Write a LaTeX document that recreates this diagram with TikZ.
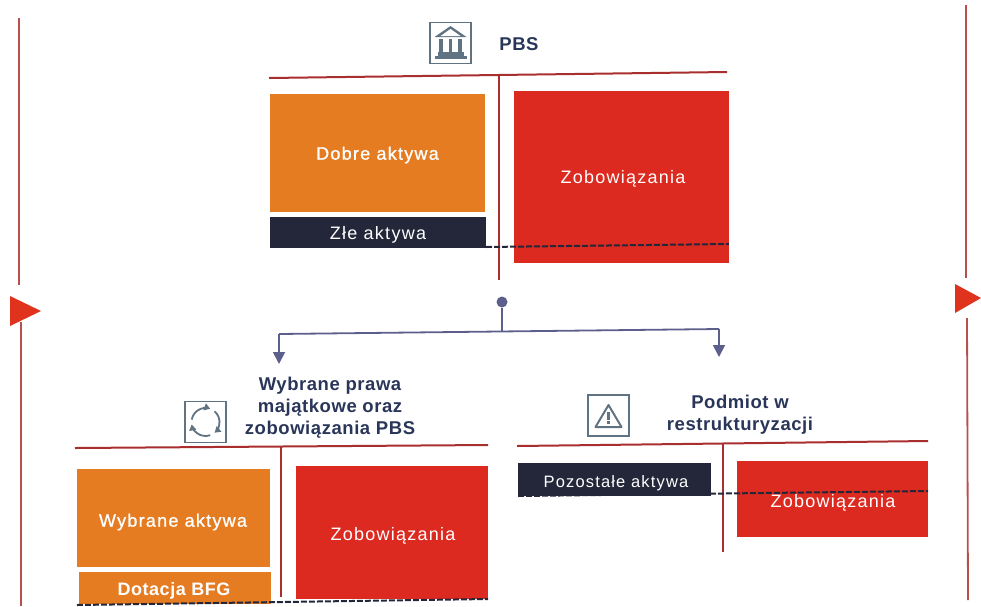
\documentclass[tikz,border=0pt]{standalone}
\usepackage{fontspec}
\setmainfont{Liberation Sans}
\newfontfamily\widef[LetterSpace=7]{Liberation Sans}
\newfontfamily\widem[LetterSpace=7,FakeBold=1]{Liberation Sans}
\newfontfamily\wideb[LetterSpace=3]{Liberation Sans}
\usetikzlibrary{arrows.meta}
\definecolor{orangeb}{HTML}{E57C22}
\definecolor{redb}{HTML}{DD2A20}
\definecolor{darkb}{HTML}{24263A}
\definecolor{ruleb}{HTML}{A92E2E}
\definecolor{navyt}{HTML}{2A3659}
\definecolor{iconc}{HTML}{5F7383}
\definecolor{arrowc}{HTML}{5C5F8C}
\definecolor{sidec}{HTML}{B5504F}
\tikzset{
  blockbox/.style={draw=none,minimum width=#1,inner sep=0pt,outer sep=0pt},
  lbl/.style={text=white,inner sep=0pt,font=\widef\fontsize{18}{20}\selectfont},
  lblm/.style={text=white,inner sep=0pt,font=\widem\fontsize{18}{20}\selectfont},
  title/.style={text=navyt,font=\wideb\bfseries\fontsize{18.5}{22}\selectfont,align=center,inner sep=0pt},
  rulel/.style={draw=ruleb,line width=2pt},
  dashl/.style={draw=darkb,line width=2pt,dash pattern=on 6pt off 2pt},
  flowl/.style={draw=arrowc,line width=1.8pt},
  flowa/.style={flowl,-{Triangle[length=12pt,width=12pt]}},
  iconbox/.style={draw=iconc,line width=1.8pt,minimum size=41pt,inner sep=0pt},
  sidel/.style={draw=sidec,line width=1.8pt},
  sidet/.style={fill=redb!90!orange,draw=none},
  cyca/.style={iconc,line width=1.8pt,-{Triangle[length=6pt,width=7pt]}}
}
\begin{document}
\begin{tikzpicture}[x=1pt,y=-1pt]
\useasboundingbox (0,0) rectangle (981,606);
% side lines
\coordinate (la) at (19,18); \coordinate (lb) at (19,285); \coordinate (lc) at (21,322); \coordinate (ld) at (21,606);
\coordinate (ra) at (966,5); \coordinate (rb) at (966,278); \coordinate (rc) at (967,318); \coordinate (rd) at (968,600);
\draw[sidel] (la)--(lb); \draw[sidel] (lc)--(ld);
\draw[sidel] (ra)--(rb); \draw[sidel] (rc)--(rd);
\fill[sidet] (10,296)--(41,311)--(10,326)--cycle;
\fill[sidet] (955,284)--(981,298)--(955,313)--cycle;
% top group
\node[blockbox=215pt,minimum height=118pt,fill=orangeb] (dobre) at (377.5,153) {};
\node[lblm] (dobret) at (377.5,155) {Dobre aktywa};
\node[blockbox=216pt,minimum height=31pt,fill=darkb] (zle) at (378,232.5) {};
\node[lbl] (zlet) at (378,235) {Złe aktywa};
\node[blockbox=215pt,minimum height=172pt,fill=redb] (zob1) at (621.5,177) {};
\node[lbl] (zob1t) at (623,179) {Zobowiązania};
\coordinate (t1) at (269,78); \coordinate (t2) at (727,72);
\coordinate (v1) at (499,75); \coordinate (v2) at (499,280);
\draw[rulel] (t1)--(t2); \draw[rulel] (v1)--(v2);
\coordinate (d1) at (486,247); \coordinate (d2) at (729,244);
\draw[dashl] (d1)--(d2);
\node[title] (pbs) at (519,44) {PBS};
\node[iconbox] (bank) at (450.5,43) {};
% bank icon
\fill[iconc] (bank.center)++(0,-17)--++(16,11)--++(-32,0)--cycle;
\fill[white] (bank.center)++(0,-14)--++(10,7)--++(-20,0)--cycle;
\foreach \dx in {-9.5,0,9.5}{\fill[iconc] (bank.center)++(\dx-1.8,-4) rectangle ++(3.6,13);}
\fill[iconc] (bank.center)++(-13,9) rectangle ++(26,3.5);
\fill[iconc] (bank.center)++(-16,12.5) rectangle ++(32,3.5);
% flow
\node[circle,fill=arrowc,minimum size=11pt,inner sep=0pt] (dot) at (502,302) {};
\coordinate (jn) at (502,331); \coordinate (hl) at (279,334); \coordinate (hr) at (719,329);
\coordinate (al) at (279,364); \coordinate (ar) at (719,357);
\draw[flowl] (dot)--(jn);
\draw[flowa] (hl)--(al);
\draw[flowa] (hr)--(ar);
\draw[flowl] (hl)--(hr);
% left group
\node[title] (wyb) at (330,408) {Wybrane prawa\\majątkowe oraz\\zobowiązania PBS};
\node[iconbox] (cyc) at (205.5,422) {};
\draw[cyca] (cyc.center)++(190:14) arc (190:290:14);
\draw[cyca] (cyc.center)++(310:14) arc (310:410:14);
\draw[cyca] (cyc.center)++(70:14) arc (70:170:14);
\node[blockbox=193pt,minimum height=98pt,fill=orangeb] (wa) at (173.5,518) {};
\node[lblm] (wat) at (173,522) {Wybrane aktywa};
\node[blockbox=192pt,minimum height=32pt,fill=orangeb] (dot2) at (175,588) {};
\node[text=white,inner sep=0pt,font=\wideb\bfseries\fontsize{18}{20}\selectfont] (dot2t) at (174,591) {Dotacja BFG};
\node[blockbox=192pt,minimum height=133pt,fill=redb] (zob2) at (392,532.5) {};
\node[lbl] (zob2t) at (393,536) {Zobowiązania};
\coordinate (l1) at (75,448); \coordinate (l2) at (488,445);
\coordinate (lv1) at (281,447); \coordinate (lv2) at (281,597);
\draw[rulel] (l1)--(l2); \draw[rulel] (lv1)--(lv2);
\coordinate (ld1) at (77,605); \coordinate (ld2) at (488,599);
\draw[dashl] (ld1)--(ld2);
% right group
\node[title] (pod) at (740,415) {Podmiot w\\restrukturyzacji};
\node[iconbox] (warn) at (608.5,415.5) {};
\draw[iconc,line width=2pt,line join=round] (warn.center)++(0,-10.5)--++(13,22)--++(-26,0)--cycle;
\fill[iconc] (warn.center)++(-1.2,-4) rectangle ++(2.4,8);
\fill[iconc] (warn.center)++(-1.2,5.5) rectangle ++(2.4,2.6);
\node[blockbox=193pt,minimum height=33pt,fill=darkb] (poz) at (614.5,479.5) {};
\node[lbl,font=\widef\fontsize{16.5}{18}\selectfont] (pozt) at (616,483) {Pozostałe aktywa};
\node[blockbox=191pt,minimum height=76pt,fill=redb] (zob3) at (832.5,499) {};
\node[lbl] (zob3t) at (833,503) {Zobowiązania};
\coordinate (r1) at (517,446); \coordinate (r2) at (928,441);
\coordinate (rv1) at (723,444); \coordinate (rv2) at (723,552);
\draw[rulel] (r1)--(r2); \draw[rulel] (rv1)--(rv2);
\coordinate (rd1) at (518,496); \coordinate (rd2) at (928,491);
\draw[dashl] (rd1)--(rd2);
\end{tikzpicture}
\end{document}
